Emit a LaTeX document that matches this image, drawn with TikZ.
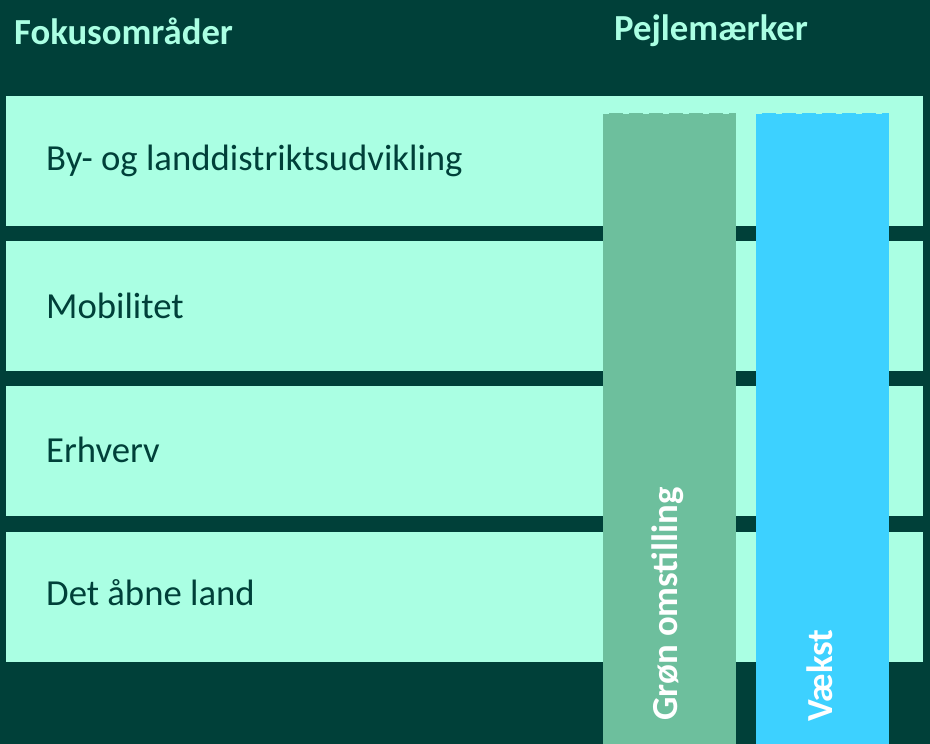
\documentclass[tikz,border=0pt]{standalone}
\usepackage{fontspec}
\setmainfont{Carlito}
\definecolor{bg}{HTML}{004039}
\definecolor{mint}{HTML}{AAFFE3}
\definecolor{gcol}{HTML}{6DBF9D}
\definecolor{bcol}{HTML}{3DD1FF}
\begin{document}
\begin{tikzpicture}[x=1pt,y=-1pt,
  rowbox/.style={fill=mint, draw=none, minimum width=917pt, minimum height=130pt, anchor=north west, inner sep=0pt},
  rowtext/.style={text=bg, anchor=west, inner sep=0pt, font=\fontsize{36.7}{44}\selectfont},
  head/.style={text=mint, anchor=west, inner sep=0pt, font=\bfseries\fontsize{36.7}{44}\selectfont},
  colbox/.style={draw=none, minimum width=133pt, minimum height=631pt, anchor=north west, inner sep=0pt},
  coltext/.style={text=white, rotate=90, anchor=west, inner sep=0pt, font=\bfseries\fontsize{36.7}{44}\selectfont},
  topdash/.style={draw=mint, line width=1pt, dash pattern=on 6pt off 14pt}]
\fill[bg] (0,0) rectangle (930,744);
\useasboundingbox (0,0) rectangle (930,744);
\node[head] (h1) at (14,31) {Fokusområder};
\node[head] (h2) at (614,31) {Pejlemærker};
\node[rowbox] (r1) at (6,96) {};
\node[rowbox] (r2) at (6,241) {};
\node[rowbox] (r3) at (6,386) {};
\node[rowbox] (r4) at (6,532) {};
\node[rowtext] (t1) at (46,161) {By- og landdistriktsudvikling};
\node[rowtext] (t2) at (46,306) {Mobilitet};
\node[rowtext] (t3) at (46,450) {Erhverv};
\node[rowtext] (t4) at (46,593) {Det åbne land};
\node[colbox, fill=gcol] (c1) at (603,113) {};
\node[colbox, fill=bcol] (c2) at (756,113) {};
\draw[topdash] (c1.north west) -- (c1.north east);
\draw[topdash] (c2.north west) -- (c2.north east);
\node[coltext] (g1) at (668,721) {Grøn omstilling};
\node[coltext] (g2) at (820,722) {Vækst};
\end{tikzpicture}
\end{document}
